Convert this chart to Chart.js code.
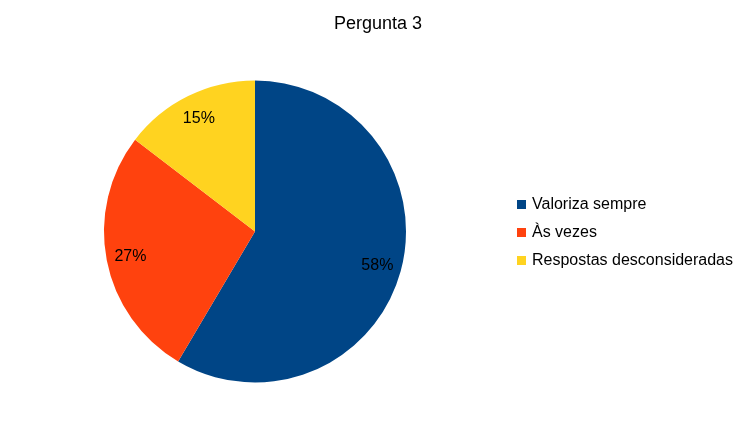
<!DOCTYPE html>
<html>
<head>
<meta charset="utf-8">
<script src="https://cdn.jsdelivr.net/npm/chart.js@4"></script>
<style>
  html, body { margin: 0; padding: 0; background: #fff; }
  #wrap { width: 756px; height: 425px; position: relative; }
</style>
</head>
<body>
<div id="wrap"><canvas id="chart" width="756" height="425"></canvas></div>
<script>
    const chartTitle = 'Pergunta 3';
    const categories = ['Valoriza sempre', 'Às vezes', 'Respostas desconsideradas'];
    // slice sizes (angles), labels as printed on the slices
    const values = [58.5, 26.9, 14.6];
    const pctLabels = ['58%', '27%', '15%'];
    const colors = ['#004586', '#ff420e', '#ffd320'];

    const FONT = '"Liberation Sans", Arial, sans-serif';

    // title, slice labels and legend drawn by hand
    const extras = {
      id: 'extras',
      afterDraw(chart) {
        const ctx = chart.ctx;
        ctx.save();
        ctx.fillStyle = '#000';
        ctx.font = '18px ' + FONT;
        ctx.textAlign = 'center';
        ctx.textBaseline = 'alphabetic';
        ctx.fillText(chartTitle, 378, 29);

        const meta = chart.getDatasetMeta(0);
        ctx.font = '16px ' + FONT;
        ctx.textBaseline = 'middle';
        meta.data.forEach((arc, i) => {
          const mid = (arc.startAngle + arc.endAngle) / 2;
          const r = arc.outerRadius * 0.84;
          const x = arc.x + Math.cos(mid) * r;
          const y = arc.y + Math.sin(mid) * r + 1;
          ctx.fillText(pctLabels[i], x, y);
        });

        ctx.textAlign = 'left';
        ctx.textBaseline = 'alphabetic';
        categories.forEach((name, i) => {
          const y = 209 + i * 28;
          ctx.fillStyle = colors[i];
          ctx.fillRect(517, y - 9, 9, 9);
          ctx.fillStyle = '#000';
          ctx.fillText(name, 532, y);
        });
        ctx.restore();
      }
    };

    new Chart(document.getElementById('chart'), {
      type: 'pie',
      data: {
        labels: categories,
        datasets: [{
          data: values,
          backgroundColor: colors,
          borderWidth: 0
        }]
      },
      options: {
        responsive: false,
        animation: false,
        layout: { padding: { left: 104, right: 350, top: 80, bottom: 42 } },
        plugins: {
          legend: { display: false },
          title: { display: false },
          tooltip: { enabled: false }
        }
      },
      plugins: [extras]
    });
</script>
</body>
</html>
